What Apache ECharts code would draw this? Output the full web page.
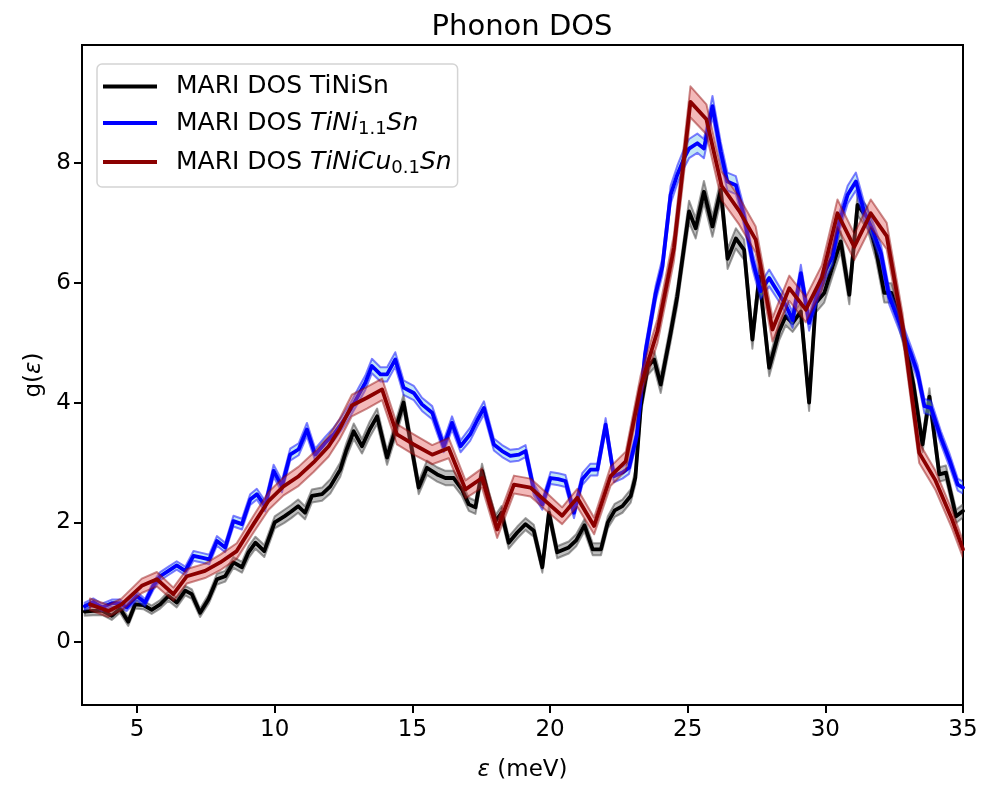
<!DOCTYPE html>
<html>
<head>
<meta charset="utf-8">
<script src="https://cdn.jsdelivr.net/npm/echarts@6/dist/echarts.min.js"></script>
<style>html,body{margin:0;padding:0;background:#fff}#c{width:983px;height:787px}</style>
</head>
<body>
<div id="c"></div>
<script>
// Each point: [energy (meV), g(e), half-width of the error band]
const blackData = [
[3.1,0.51,.07],[3.4,0.52,.07],[3.75,0.52,.07],[4.08,0.44,.07],[4.38,0.56,.07],[4.68,0.34,.07],[4.93,0.63,.07],[5.23,0.62,.07],[5.53,0.54,.07],[5.84,0.63,.07],
[6.14,0.77,.08],[6.44,0.66,.08],[6.75,0.86,.08],[6.99,0.80,.08],[7.29,0.49,.07],[7.6,0.72,.08],[7.9,1.05,.09],[8.2,1.10,.09],[8.5,1.33,.09],[8.81,1.25,.09],
[9.05,1.5,.1],[9.3,1.66,.1],[9.62,1.52,.1],[10.0,2.0,.1],[10.35,2.1,.11],[10.6,2.18,.11],[10.85,2.27,.11],[11.1,2.16,.11],[11.35,2.44,.11],[11.72,2.47,.11],
[12.02,2.6,.12],[12.38,2.88,.12],[12.6,3.2,.12],[12.87,3.52,.13],[13.17,3.27,.12],[13.45,3.55,.13],[13.72,3.77,.13],[14.08,3.08,.12],[14.68,4.0,.13],[15.23,2.58,.11],
[15.53,2.91,.12],[15.9,2.8,.12],[16.2,2.74,.12],[16.5,2.74,.12],[16.8,2.55,.11],[17.05,2.3,.11],[17.29,2.25,.11],[17.53,2.86,.12],[17.78,2.4,.11],[18.02,2.02,.1],
[18.24,2.16,.11],[18.5,1.66,.1],[18.81,1.83,.1],[19.11,1.97,.1],[19.41,1.86,.1],[19.72,1.25,.09],[19.96,2.16,.11],[20.26,1.5,.1],[20.68,1.58,.1],[20.95,1.7,.1],
[21.25,1.95,.1],[21.55,1.55,.1],[21.85,1.55,.1],[22.1,2.0,.1],[22.35,2.2,.11],[22.63,2.27,.11],[22.93,2.44,.11],[23.1,2.75,.12],[23.3,3.95,.13],[23.55,4.6,.14],
[23.78,4.72,.14],[24.02,4.3,.14],[24.38,5.16,.15],[24.62,5.77,.16],[24.87,6.6,.17],[25.05,7.19,.18],[25.29,6.91,.17],[25.59,7.52,.18],[25.9,6.94,.17],[26.2,7.55,.18],
[26.45,6.4,.17],[26.75,6.74,.17],[27.05,6.55,.17],[27.35,5.05,.15],[27.6,6.1,.16],[27.96,4.58,.14],[28.32,5.19,.15],[28.56,5.44,.15],[28.81,5.33,.15],[29.11,5.52,.15],
[29.41,4.0,.14],[29.65,5.66,.16],[29.96,5.83,.16],[30.26,6.27,.16],[30.56,6.69,.17],[30.87,5.8,.16],[31.17,7.3,.18],[31.53,7.08,.18],[31.84,6.55,.17],[32.14,5.83,.16],
[32.4,5.83,.16],[32.65,5.45,.15],[32.9,5.0,.15],[33.2,4.3,.14],[33.53,3.3,.13],[33.78,4.1,.14],[34.14,2.8,.12],[34.38,2.83,.12],[34.75,2.1,.11],[35.0,2.19,.11]
];
const blueData = [
[3.1,0.60,.06],[3.41,0.67,.06],[3.72,0.58,.06],[4.08,0.65,.06],[4.38,0.65,.06],[4.62,0.58,.06],[4.99,0.77,.07],[5.29,0.66,.06],[5.59,0.94,.07],[5.84,1.10,.07],
[6.14,1.19,.07],[6.44,1.28,.07],[6.75,1.19,.07],[7.05,1.44,.08],[7.35,1.41,.08],[7.62,1.38,.08],[7.9,1.69,.08],[8.2,1.58,.08],[8.5,2.02,.09],[8.81,1.97,.09],
[9.11,2.38,.09],[9.35,2.47,.09],[9.65,2.27,.09],[9.96,2.86,.1],[10.26,2.60,.1],[10.56,3.13,.1],[10.87,3.22,.1],[11.17,3.55,.11],[11.47,3.13,.1],[11.84,3.33,.1],
[12.14,3.47,.11],[12.44,3.66,.11],[12.75,3.88,.11],[13.05,4.13,.12],[13.29,4.33,.12],[13.53,4.61,.12],[13.84,4.47,.12],[14.08,4.47,.12],[14.38,4.72,.12],[14.68,4.25,.12],
[15.05,4.16,.12],[15.35,3.97,.11],[15.72,3.83,.11],[16.14,3.27,.1],[16.44,3.66,.11],[16.75,3.27,.1],[17.1,3.47,.11],[17.35,3.7,.11],[17.6,3.91,.11],[17.96,3.30,.1],
[18.26,3.19,.1],[18.56,3.11,.1],[18.87,3.13,.1],[19.11,3.19,.1],[19.41,2.55,.1],[19.72,2.30,.09],[20.02,2.74,.1],[20.3,2.72,.1],[20.56,2.69,.1],[20.87,2.16,.09],
[21.17,2.72,.1],[21.47,2.88,.1],[21.72,2.88,.1],[22.02,3.63,.11],[22.32,2.77,.1],[22.63,2.83,.1],[22.87,2.91,.1],[23.15,3.45,.11],[23.45,4.8,.12],[23.84,5.83,.13],
[24.08,6.27,.14],[24.38,7.47,.15],[24.62,7.80,.15],[24.87,8.08,.16],[25.05,8.24,.16],[25.35,8.33,.16],[25.59,8.24,.16],[25.9,8.95,.17],[26.2,8.19,.16],[26.44,7.69,.15],
[26.75,7.63,.15],[27.05,7.10,.15],[27.35,6.38,.14],[27.65,5.86,.13],[27.96,6.08,.14],[28.26,5.86,.13],[28.56,5.63,.13],[28.81,5.38,.13],[29.11,6.16,.14],[29.41,5.33,.13],
[29.72,5.83,.13],[30.02,6.22,.14],[30.26,6.44,.14],[30.5,7.00,.15],[30.81,7.47,.15],[31.11,7.69,.15],[31.41,7.19,.15],[31.72,6.88,.14],[32.02,6.49,.14],[32.32,5.77,.13],
[32.69,5.33,.13],[33.1,4.83,.12],[33.35,4.50,.12],[33.6,3.94,.12],[33.84,3.91,.12],[34.2,3.41,.11],[34.5,3.05,.11],[34.81,2.63,.1],[35.0,2.58,.1]
];
const redData = [
[3.29,0.63,.1],[3.96,0.52,.1],[4.44,0.63,.1],[5.17,0.94,.12],[5.72,1.05,.12],[6.32,0.80,.11],[6.81,1.10,.12],[7.47,1.19,.12],[8.02,1.33,.13],[8.62,1.52,.13],
[9.23,1.97,.14],[9.78,2.36,.15],[10.32,2.60,.15],[10.87,2.77,.16],[11.41,3.00,.16],[11.96,3.27,.17],[12.35,3.55,.17],[12.8,3.95,.18],[13.35,4.08,.18],[13.9,4.22,.18],
[14.44,3.47,.17],[15.05,3.3,.17],[15.72,3.13,.16],[16.32,3.24,.17],[16.93,2.55,.15],[17.53,2.74,.16],[18.08,1.88,.14],[18.69,2.63,.15],[19.29,2.58,.15],[19.9,2.33,.15],
[20.44,2.11,.14],[20.99,2.41,.15],[21.6,1.94,.14],[22.2,2.77,.16],[22.75,3.02,.16],[23.29,4.27,.18],[23.9,5.19,.2],[24.5,6.58,.22],[25.1,9.02,.26],[25.68,8.73,.25],
[26.23,7.62,.24],[26.87,7.2,.23],[27.47,6.72,.22],[28.08,5.22,.2],[28.69,5.91,.21],[29.29,5.55,.21],[29.87,6.08,.21],[30.44,7.16,.23],[31.05,6.6,.22],[31.65,7.16,.23],
[32.23,6.78,.22],[32.8,5.3,.2],[33.41,3.16,.17],[34.0,2.7,.16],[34.6,2.05,.15],[35.0,1.55,.14]
];
const xTicks = [5, 10, 15, 20, 25, 30, 35];
const yTicks = [0, 2, 4, 6, 8];
const seriesNames = ['MARI DOS TiNiSn', 'MARI DOS TiNi1.1Sn', 'MARI DOS TiNiCu0.1Sn'];
const legendRich = {
  'MARI DOS TiNiSn': '{r|MARI DOS TiNiSn}',
  'MARI DOS TiNi1.1Sn': '{r|MARI DOS }{i|TiNi}{s|1.1}{i|Sn}',
  'MARI DOS TiNiCu0.1Sn': '{r|MARI DOS }{i|TiNiCu}{s|0.1}{i|Sn}'
};

const FONT = 'DejaVu Sans';
const chart = echarts.init(document.getElementById('c'), null, {renderer: 'canvas'});

function bandSeries(data, fill, stroke, z) {
  return {
    type: 'custom',
    z: z,
    silent: true,
    clip: true,
    data: [[data[0][0], data[0][1]]],
    renderItem: function (params, api) {
      const upper = data.map(d => api.coord([d[0], d[1] + d[2]]));
      const lower = data.slice().reverse().map(d => api.coord([d[0], d[1] - d[2]]));
      return {
        type: 'polygon',
        shape: {points: upper.concat(lower)},
        style: {fill: fill, stroke: stroke, lineWidth: 2, lineJoin: 'round'}
      };
    }
  };
}
function lineSeries(name, data, color, z) {
  return {
    type: 'line', name: name, z: z,
    data: data.map(d => [d[0], d[1]]),
    symbol: 'none', showSymbol: false, clip: true,
    lineStyle: {color: color, width: 3.8, join: 'round', cap: 'round'},
    itemStyle: {color: color}
  };
}

const axisText = {fontFamily: FONT, fontSize: 23, color: '#000'};

chart.setOption({
  animation: false,
  backgroundColor: '#fff',
  grid: {left: 82, top: 45, width: 881, height: 661, show: true, borderColor: '#000', borderWidth: 2, backgroundColor: 'transparent'},
  graphic: [{
    type: 'text',
    x: 522, y: 27,
    style: {text: 'Phonon DOS', font: '29px "DejaVu Sans"', fill: '#000', textAlign: 'center', textVerticalAlign: 'middle'}
  }],
  legend: {
    orient: 'vertical', left: 97, top: 64,
    icon: 'rect', itemWidth: 54, itemHeight: 4, itemGap: 11.5,
    padding: [10, 6, 10, 6],
    backgroundColor: '#fff', borderColor: '#d4d4d4', borderWidth: 1.5, borderRadius: 5,
    data: seriesNames,
    formatter: function (n) { return legendRich[n]; },
    textStyle: {
      fontFamily: FONT, fontSize: 25, color: '#000', padding: [0, 0, 0, 14],
      rich: {
        r: {fontFamily: FONT, fontSize: 25, lineHeight: 30},
        i: {fontFamily: FONT, fontSize: 25, lineHeight: 30, fontStyle: 'italic'},
        s: {fontFamily: FONT, fontSize: 18, lineHeight: 16, verticalAlign: 'bottom'}
      }
    }
  },
  xAxis: {
    type: 'value', min: 3, max: 35,
    name: '{i|ε} (meV)', nameLocation: 'middle', nameGap: 54,
    nameTextStyle: Object.assign({}, axisText, {rich: {i: Object.assign({}, axisText, {fontStyle: 'italic'})}}),
    axisLine: {show: true, onZero: false, lineStyle: {color: '#000', width: 2}},
    axisTick: {show: true, customValues: xTicks, length: 8, inside: false, lineStyle: {color: '#000', width: 2}},
    axisLabel: Object.assign({customValues: xTicks, margin: 14}, axisText),
    splitLine: {show: false}
  },
  yAxis: {
    type: 'value', min: -1.05, max: 9.97,
    name: 'g({i|ε})', nameLocation: 'middle', nameGap: 30, nameRotate: 90,
    nameTextStyle: Object.assign({}, axisText, {rich: {i: Object.assign({}, axisText, {fontStyle: 'italic'})}}),
    axisLine: {show: true, onZero: false, lineStyle: {color: '#000', width: 2}},
    axisTick: {show: true, customValues: yTicks, length: 8, inside: false, lineStyle: {color: '#000', width: 2}},
    axisLabel: Object.assign({customValues: yTicks, margin: 11, formatter: v => String(v)}, axisText),
    splitLine: {show: false}
  },
  series: [
    bandSeries(blackData, 'rgba(128,128,128,0.5)', 'rgba(60,60,60,0.5)', 1),
    lineSeries(seriesNames[0], blackData, '#000000', 2),
    bandSeries(blueData, 'rgba(135,206,235,0.5)', 'rgba(0,0,255,0.5)', 3),
    lineSeries(seriesNames[1], blueData, '#0000ff', 4),
    bandSeries(redData, 'rgba(225,80,80,0.4)', 'rgba(139,0,0,0.45)', 5),
    lineSeries(seriesNames[2], redData, '#8b0000', 6)
  ]
});
</script>
</body>
</html>
